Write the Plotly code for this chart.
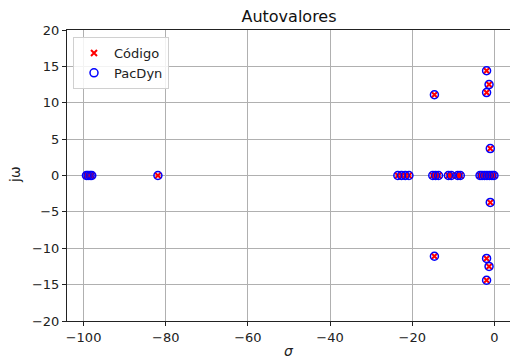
import plotly.graph_objects as go

# Eigenvalues (real part sigma, imaginary part omega)
codigo_sigma = [-99.3, -98.9, -98.4, -98.0, -81.9,
                -23.5, -22.6, -21.7, -20.8,
                -15.0, -14.3, -13.6,
                -11.2, -10.5, -8.9, -8.3,
                -3.5, -3.0, -2.4, -1.8, -1.2, -0.6, -0.1,
                -1.9, -1.9, -1.3, -1.3, -1.9, -1.9, -14.6, -14.6, -1.0, -1.0]
codigo_omega = [0, 0, 0, 0, 0,
                0, 0, 0, 0,
                0, 0, 0,
                0, 0, 0, 0,
                0, 0, 0, 0, 0, 0, 0,
                14.4, -14.4, 12.5, -12.5, 11.4, -11.4, 11.1, -11.1, 3.7, -3.7]

pacdyn_sigma = list(codigo_sigma)
pacdyn_omega = list(codigo_omega)

x_ticks = [-100, -80, -60, -40, -20, 0]
y_ticks = [-20, -15, -10, -5, 0, 5, 10, 15, 20]

W, H = 510, 360
L, R, T, B = 67, 510, 30, 321


def px_x(px):
    return (px - L) / (R - L)


def px_y(py):
    return (B - py) / (B - T)


fig = go.Figure()
fig.add_trace(go.Scatter(
    x=codigo_sigma, y=codigo_omega, mode="markers", name="Código",
    marker=dict(symbol="x-thin", size=6, color="red",
                line=dict(color="red", width=2)),
))
fig.add_trace(go.Scatter(
    x=pacdyn_sigma, y=pacdyn_omega, mode="markers", name="PacDyn",
    marker=dict(symbol="circle-open", size=8, color="blue",
                line=dict(color="blue", width=1.5)),
))

font = "DejaVu Sans, Arial, sans-serif"
fig.update_layout(
    width=W, height=H,
    margin=dict(l=L, r=W - R, t=T, b=H - B, autoexpand=False),
    paper_bgcolor="white", plot_bgcolor="white",
    font=dict(family=font, size=13, color="#222"),
    title=dict(text="Autovalores", x=289 / W, xanchor="center", xref="container",
               y=1 - 16 / H, yref="container", yanchor="middle",
               font=dict(size=16, color="#111")),
    showlegend=True,
    legend=dict(x=px_x(73), y=px_y(37), xanchor="left", yanchor="top",
                bgcolor="rgba(255,255,255,0.85)", bordercolor="#d0d0d0",
                borderwidth=1, font=dict(size=13, color="#222"),
                tracegroupgap=2),
    annotations=[
        dict(text="<i>σ</i>", x=px_x(289), y=px_y(351), xref="paper",
             yref="paper", showarrow=False, xanchor="center", yanchor="middle",
             font=dict(size=14, color="#222")),
        dict(text="jω", x=px_x(15), y=px_y(175), xref="paper",
             yref="paper", showarrow=False, xanchor="center", yanchor="middle",
             textangle=-90, font=dict(size=14, color="#222")),
    ],
)
fig.update_xaxes(
    range=[-104.03, 3.8], tickvals=x_ticks, showgrid=True, gridcolor="#b0b0b0",
    gridwidth=1, zeroline=False, showline=True, linecolor="#222", linewidth=1,
    mirror=True, ticks="outside", ticklen=4, tickcolor="#222", automargin=False,
)
fig.update_yaxes(
    range=[-20, 20], tickvals=y_ticks, showgrid=True, gridcolor="#b0b0b0",
    gridwidth=1, zeroline=False, showline=True, linecolor="#222", linewidth=1,
    mirror=False, ticks="outside", ticklen=4, tickcolor="#222", automargin=False,
)

fig.write_html("out.html", config={"displayModeBar": False},
               post_script="document.body.style.margin='0';")
